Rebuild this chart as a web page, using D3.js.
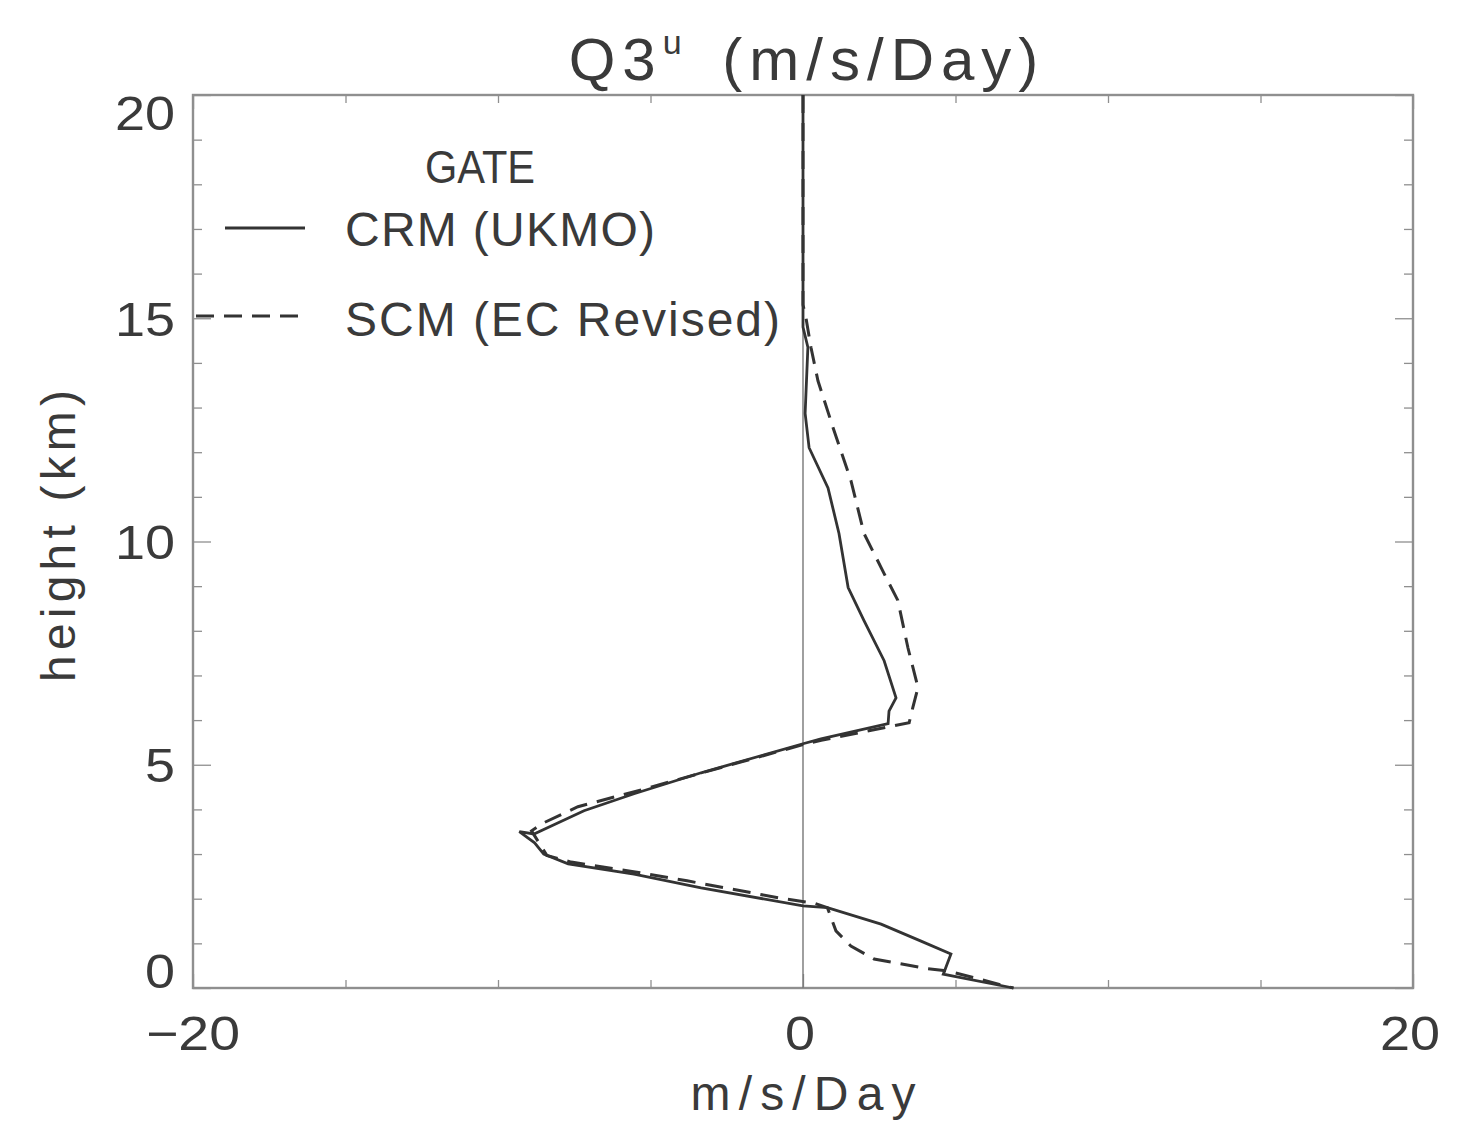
<!DOCTYPE html>
<html><head><meta charset="utf-8">
<script src="https://cdn.jsdelivr.net/npm/d3@7"></script>
<style>body{margin:0;background:#fff}svg{display:block}text{font-family:"Liberation Sans",Arial,sans-serif;fill:#3a3a3a}</style>
</head><body>
<script>
// Data: [value (m/s/Day), height (km)]
const crmX = [0,0,0.16,0.07,0.2,0.82,1.18,1.48,2.0,2.66,3.05,2.82,2.79,0.59,0,-3.34,-5.54,-7.18,-8.82,-9.3,-8.8,-8.5,-7.7,-5.54,-3.34,0,0.8,2.56,3.87,4.85,4.6,6.9];
const crmY = [20,14.8,14.35,12.87,12.1,11.2,10.18,8.97,8.23,7.33,6.5,6.2,5.92,5.58,5.47,4.82,4.35,3.97,3.45,3.5,3.25,3.0,2.78,2.55,2.24,1.84,1.8,1.43,1.05,0.76,0.31,0];
const scmX = [0,0,0.1,0.26,0.49,0.98,1.57,2.0,2.66,3.11,3.44,3.77,3.6,3.48,0.6,0,-3.2,-5.4,-7.38,-8.5,-8.9,-8.4,-7.6,-5.5,-3.8,-0.8,0.36,0.8,1.08,1.57,2.33,4.1,4.75,6.9];
const scmY = [20,15.3,15,14.35,13.6,12.56,11.37,10.18,9.28,8.68,7.62,6.73,6.28,5.94,5.55,5.45,4.84,4.42,4.06,3.7,3.52,2.97,2.82,2.6,2.4,2.02,1.9,1.8,1.28,0.94,0.65,0.43,0.38,0];
const xTicks = [-20,0,20];
const xMinor = [-15,-10,-5,5,10,15];
const yTicks = [0,5,10,15,20];
const yMinor = d3.range(0,21).filter(v=>v%5!==0);
const seriesNames = ["CRM (UKMO)","SCM (EC Revised)"];

const W=1469,H=1125;
const svg=d3.select("body").append("svg").attr("width",W).attr("height",H);
const x=d3.scaleLinear().domain([-20,20]).range([193,1413]);
const y=d3.scaleLinear().domain([0,20]).range([988,95]);
const ink="#333", frame="#8f8f8f";

// frame
svg.append("rect").attr("x",x(-20)).attr("y",y(20)).attr("width",x(20)-x(-20)).attr("height",y(0)-y(20))
  .attr("fill","none").attr("stroke",frame).attr("stroke-width",2.4);

function styleAxis(g){g.select(".domain").remove();g.selectAll("line").attr("stroke",frame).attr("stroke-width",1.3);g.selectAll("text").remove();}
svg.append("g").attr("transform",`translate(${x(-20)},0)`).call(d3.axisRight(y).tickValues(yTicks).tickSize(18)).call(styleAxis);
svg.append("g").attr("transform",`translate(${x(-20)},0)`).call(d3.axisRight(y).tickValues(yMinor).tickSize(9)).call(styleAxis);
svg.append("g").attr("transform",`translate(${x(20)},0)`).call(d3.axisLeft(y).tickValues(yTicks).tickSize(18)).call(styleAxis);
svg.append("g").attr("transform",`translate(${x(20)},0)`).call(d3.axisLeft(y).tickValues(yMinor).tickSize(9)).call(styleAxis);
svg.append("g").attr("transform",`translate(0,${y(0)})`).call(d3.axisTop(x).tickValues(xTicks).tickSize(14)).call(styleAxis);
svg.append("g").attr("transform",`translate(0,${y(0)})`).call(d3.axisTop(x).tickValues(xMinor).tickSize(8)).call(styleAxis);
svg.append("g").attr("transform",`translate(0,${y(20)})`).call(d3.axisBottom(x).tickValues(xTicks).tickSize(14)).call(styleAxis);
svg.append("g").attr("transform",`translate(0,${y(20)})`).call(d3.axisBottom(x).tickValues(xMinor).tickSize(8)).call(styleAxis);

// zero line
svg.append("line").attr("x1",x(0)).attr("x2",x(0)).attr("y1",y(0)).attr("y2",y(20)).attr("stroke","#777").attr("stroke-width",1.4);

// tick labels
const fs=48;
svg.append("g").selectAll("text").data(yTicks).join("text")
  .attr("x",x(-20)-18).attr("y",d=>y(d)+(d===20?18:d===0?-17:0)).attr("dy","0.36em")
  .attr("text-anchor","end").attr("font-size",fs)
  .attr("textLength",d=>String(d).length===2?60:30).attr("lengthAdjust","spacingAndGlyphs").text(d=>d);
svg.append("g").selectAll("text").data(xTicks).join("text")
  .attr("x",d=>x(d)+(d===20?-3:d===0?-3:0)).attr("y",y(0)+62)
  .attr("text-anchor","middle").attr("font-size",fs)
  .attr("textLength",d=>d<0?94:d===0?30:60).attr("lengthAdjust","spacingAndGlyphs")
  .text(d=>d<0?"\u2212"+Math.abs(d):d);

// axis titles
svg.append("text").attr("x",x(0)).attr("y",1110).attr("text-anchor","middle").attr("font-size",48)
  .attr("textLength",225).attr("lengthAdjust","spacing").text("m/s/Day");
svg.append("text").attr("transform",`translate(75,536) rotate(-90)`).attr("text-anchor","middle").attr("font-size",48)
  .attr("textLength",292).attr("lengthAdjust","spacing").text("height (km)");
const t=svg.append("text").attr("x",x(0)+4).attr("y",80).attr("text-anchor","middle").attr("font-size",60)
  .attr("letter-spacing",7).attr("word-spacing",10);
t.append("tspan").text("Q3");
t.append("tspan").attr("font-size",34).attr("dy",-26).text("u");
t.append("tspan").attr("dy",26).text(" (m/s/Day)");

// lines
const line=d3.line().x(d=>x(d[0])).y(d=>y(d[1]));
const crm=crmX.map((v,i)=>[v,crmY[i]]);
const scm=scmX.map((v,i)=>[v,scmY[i]]);
svg.append("path").datum(scm).attr("d",line).attr("fill","none").attr("stroke",ink).attr("stroke-width",3).attr("stroke-dasharray","18,10");
svg.append("path").datum(crm).attr("d",line).attr("fill","none").attr("stroke",ink).attr("stroke-width",2.8);

// legend
svg.append("text").attr("x",480).attr("y",183).attr("text-anchor","middle").attr("font-size",46)
  .attr("textLength",110).attr("lengthAdjust","spacingAndGlyphs").text("GATE");
svg.append("line").attr("x1",225).attr("x2",305).attr("y1",228).attr("y2",228).attr("stroke",ink).attr("stroke-width",2.8);
svg.append("line").attr("x1",196).attr("x2",302).attr("y1",316).attr("y2",316).attr("stroke",ink).attr("stroke-width",3).attr("stroke-dasharray","18,10");
svg.append("text").attr("x",345).attr("y",246).attr("font-size",48)
  .attr("textLength",310).attr("lengthAdjust","spacing").text(seriesNames[0]);
svg.append("text").attr("x",345).attr("y",336).attr("font-size",48)
  .attr("textLength",435).attr("lengthAdjust","spacing").text(seriesNames[1]);
</script>
</body></html>
